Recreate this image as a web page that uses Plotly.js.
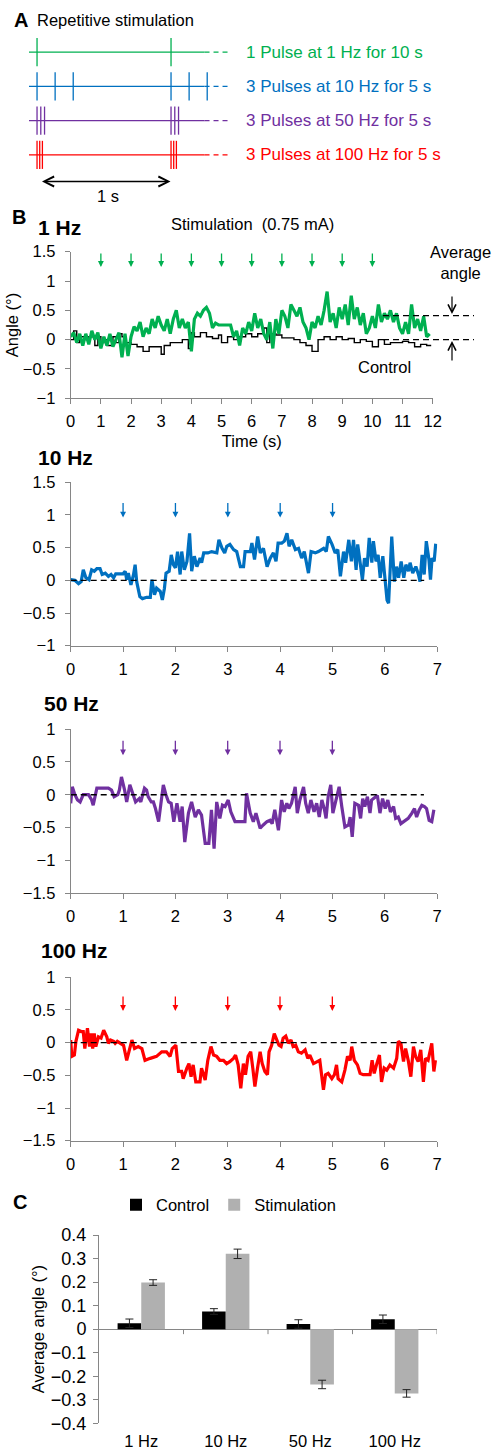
<!DOCTYPE html>
<html><head><meta charset="utf-8">
<script src="https://cdn.plot.ly/plotly-3.0.1.min.js"></script>
<style>html,body{margin:0;padding:0;background:#fff}#chart{width:492px;height:1453px}</style>
</head><body><div id="chart"></div>
<script>
const W = 492, H = 1453;
const FONT = '"Liberation Sans", Arial, sans-serif';

// ---------- Panel A: stimulation protocols ----------
const trainLabels = ['1 Pulse at 1 Hz for 10 s', '3 Pulses at 10 Hz for 5 s', '3 Pulses at 50 Hz for 5 s', '3 Pulses at 100 Hz for 5 s'];
const trainColors = ['#00B050', '#0070C0', '#7030A0', '#FF0000'];
const pulses1Hz = [0, 1];
const pulses10Hz = [0, 0.135, 0.27, 1, 1.135, 1.27];
const pulses50Hz = [0, 0.028, 0.056, 1, 1.028, 1.056];
const pulses100Hz = [0, 0.02, 0.04, 1, 1.02, 1.04];

// ---------- Panel B: angle traces ----------
const t1HzStim = [0,0.1,0.2,0.3,0.4,0.5,0.6,0.7,0.8,0.9,1,1.1,1.2,1.3,1.4,1.5,1.6,1.7,1.8,1.9,2,2.1,2.2,2.3,2.4,2.5,2.6,2.7,2.8,2.9,3,3.1,3.2,3.3,3.4,3.5,3.6,3.7,3.8,3.9,4,4.1,4.2,4.3,4.4,4.5,4.6,4.7,4.8,4.9,5,5.1,5.2,5.3,5.4,5.5,5.6,5.7,5.8,5.9,6,6.1,6.2,6.3,6.4,6.5,6.6,6.7,6.8,6.9,7,7.1,7.2,7.3,7.4,7.5,7.6,7.7,7.8,7.9,8,8.1,8.2,8.3,8.4,8.5,8.6,8.7,8.8,8.9,9,9.1,9.2,9.3,9.4,9.5,9.6,9.7,9.8,9.9,10,10.1,10.2,10.3,10.4,10.5,10.6,10.7,10.8,10.9,11,11.1,11.2,11.3,11.4,11.5,11.6,11.7,11.8,11.9];
const angle1HzStim = [0.05,0.12,-0.05,0.10,-0.10,0.10,-0.08,0.15,0.00,0.12,
  -0.15,0.05,-0.10,0.10,-0.12,0.00,0.12,-0.30,0.10,-0.28,
  0.05,0.22,0.15,0.30,0.05,0.20,0.10,0.35,0.20,0.40,
  0.25,0.15,0.35,0.10,0.35,0.50,0.20,0.35,0.20,0.30,
  -0.20,0.35,0.45,0.40,0.50,0.55,0.45,0.20,0.28,0.25,
  0.25,0.25,0.25,0.25,0.05,0.15,-0.10,0.20,0.10,0.30,
  0.15,0.45,0.20,0.35,0.10,0.00,0.30,-0.15,0.35,0.10,
  0.50,0.40,0.20,0.60,0.50,0.40,0.55,0.30,0.20,0.00,
  0.30,0.20,0.40,0.25,0.50,0.82,0.30,0.45,0.20,0.55,
  0.35,0.60,0.25,0.75,0.35,0.55,0.25,0.45,0.10,0.20,
  0.40,0.20,0.60,0.30,0.45,0.35,0.50,0.30,0.45,0.20,
  0.10,0.30,0.10,0.60,0.20,0.35,0.15,0.40,0.05,0.10];
const t1HzCtrl = [0,0.1,0.2,0.3,0.5,0.6,0.8,0.9,1.0,1.1,1.2,1.4,1.5,1.6,1.7,1.8,2.0,2.2,2.4,2.6,2.8,3.0,3.1,3.3,3.5,3.7,3.9,4.0,4.1,4.3,4.5,4.7,4.9,5.0,5.2,5.4,5.6,5.8,6.0,6.2,6.4,6.5,6.6,6.8,7.0,7.2,7.4,7.6,7.8,8.0,8.2,8.4,8.6,8.8,9.0,9.2,9.4,9.6,9.8,10.0,10.2,10.4,10.6,10.8,11.0,11.2,11.4,11.6,11.8,11.95];
const angle1HzCtrl = [0,0.15,-0.05,0.05,0,0.05,-0.1,0.05,-0.05,0,
  -0.1,0.05,-0.05,0.1,0.05,-0.05,-0.08,-0.12,-0.2,-0.12,
  -0.12,-0.25,-0.1,-0.05,-0.05,0,-0.15,0.12,0.05,0.12,
  0.05,0.02,0.08,-0.05,0.05,0,0.05,0.1,0.05,0.1,
  0.2,-0.05,0.1,0.08,0.03,0.03,0,-0.05,-0.1,-0.2,
  0,0.05,0,0.05,0,0.02,-0.05,0,-0.03,-0.12,
  0,-0.08,-0.05,-0.05,-0.03,-0.05,-0.12,-0.08,-0.1,-0.1];
const average1HzStim = 0.41;
const average1HzCtrl = 0;
const stimTimes1Hz = [1,2,3,4,5,6,7,8,9,10];

const t10Hz = [0,0.08,0.15,0.2,0.24,0.29,0.35,0.4,0.45,0.5,0.56,0.6,0.66,0.72,0.77,0.82,0.86,1.0,1.04,1.07,1.1,1.15,1.2,1.23,1.26,1.32,1.37,1.45,1.52,1.55,1.6,1.64,1.71,1.75,1.79,1.82,1.88,1.92,1.96,2.0,2.04,2.09,2.12,2.17,2.22,2.27,2.31,2.36,2.41,2.47,2.5,2.54,2.62,2.69,2.79,2.83,2.89,2.94,2.98,3.04,3.11,3.17,3.24,3.3,3.33,3.43,3.46,3.51,3.57,3.62,3.68,3.75,3.81,3.87,3.92,3.96,4.03,4.08,4.13,4.17,4.22,4.29,4.35,4.41,4.46,4.54,4.59,4.67,4.73,4.83,4.88,4.92,4.99,5.05,5.1,5.15,5.21,5.25,5.31,5.36,5.4,5.45,5.48,5.53,5.57,5.61,5.66,5.7,5.75,5.78,5.83,5.87,5.91,5.96,6.0,6.04,6.07,6.1,6.13,6.18,6.22,6.26,6.31,6.36,6.4,6.45,6.48,6.53,6.59,6.64,6.67,6.71,6.75,6.79,6.84,6.87,6.9,6.94,6.97];
const angle10Hz = [0.01,0,-0.05,-0.02,0.16,0.04,0.01,0.16,0.14,0.18,0.18,0.09,0.11,0.06,0.09,0.04,0.1,0.1,0.14,0.01,0.11,-0.07,0.09,0.24,-0.02,-0.25,-0.28,-0.26,-0.26,0.01,-0.22,-0.12,-0.17,-0.3,-0.12,0.11,0.14,0.39,0.24,0.19,0.44,0.09,0.44,0.16,0.29,0.72,0.14,0.37,0.21,0.34,0.27,0.42,0.42,0.44,0.42,0.62,0.49,0.42,0.52,0.55,0.47,0.44,0.21,0.21,0.44,0.44,0.57,0.32,0.67,0.42,0.49,0.21,0.34,0.42,0.29,0.57,0.57,0.6,0.72,0.52,0.62,0.47,0.49,0.34,0.44,0.11,0.44,0.42,0.44,0.49,0.44,0.67,0.55,0.42,0.47,0.06,0.44,0.27,0.62,0.29,0.62,0.16,0.55,0.27,0.01,0.34,0.21,0.65,0.27,0.6,0.29,0.39,0.04,0.37,0.04,-0.3,-0.35,0.19,0.67,-0.02,0.21,0.04,0.29,0.04,0.24,0.14,0.27,0.11,0.21,0.09,-0.02,0.39,0.09,0.6,0.32,0.01,0.34,0.29,0.56];
const stimTimes10Hz = [1,2,3,4,5];

const t50Hz = [0,0.03,0.08,0.13,0.18,0.24,0.34,0.4,0.43,0.5,0.72,0.78,0.83,0.9,0.93,0.97,1.03,1.07,1.13,1.2,1.24,1.31,1.34,1.41,1.45,1.48,1.54,1.58,1.62,1.68,1.72,1.77,1.82,1.87,1.92,1.97,2.03,2.09,2.13,2.18,2.25,2.31,2.38,2.44,2.5,2.57,2.64,2.69,2.74,2.79,2.85,2.9,2.95,3.01,3.06,3.14,3.33,3.36,3.43,3.49,3.54,3.62,3.68,3.75,3.81,3.85,3.9,3.97,4.03,4.08,4.13,4.17,4.22,4.29,4.33,4.38,4.45,4.49,4.54,4.59,4.65,4.7,4.75,4.8,4.85,4.88,4.92,4.97,5.01,5.06,5.13,5.18,5.24,5.31,5.34,5.38,5.43,5.5,5.54,5.58,5.62,5.67,5.72,5.75,5.82,5.86,5.91,5.96,6.01,6.06,6.11,6.17,6.21,6.26,6.31,6.39,6.45,6.52,6.57,6.61,6.66,6.71,6.76,6.8,6.85,6.9,6.94];
const angle50Hz = [-0.13,0.12,0,-0.08,-0.11,0,0,-0.08,-0.16,0.1,0.1,0.07,-0.03,0,0.07,0.27,0.07,-0.11,0.15,0,-0.11,-0.06,-0.11,0.1,0.07,-0.03,-0.11,-0.11,-0.21,-0.41,-0.16,0.15,0,-0.11,-0.13,-0.41,-0.13,-0.41,-0.18,-0.72,-0.28,-0.11,-0.34,-0.23,-0.31,-0.74,-0.74,-0.23,-0.82,-0.11,-0.36,-0.16,-0.18,-0.08,-0.26,-0.41,-0.41,0.02,-0.28,-0.41,-0.28,-0.51,-0.46,-0.41,-0.39,-0.44,-0.23,-0.54,-0.08,-0.26,-0.13,-0.21,-0.13,0.12,-0.28,-0.08,0.12,-0.13,-0.28,-0.08,-0.26,-0.13,-0.34,-0.08,-0.23,-0.36,-0.03,0.15,-0.28,-0.13,0.12,-0.18,-0.49,-0.46,-0.34,-0.64,-0.13,-0.16,-0.36,-0.06,-0.18,-0.03,-0.28,-0.08,-0.03,-0.01,-0.28,-0.06,-0.21,-0.08,-0.26,-0.18,-0.36,-0.34,-0.44,-0.39,-0.36,-0.28,-0.21,-0.34,-0.23,-0.16,-0.18,-0.21,-0.39,-0.41,-0.23];
const stimTimes50Hz = [1,2,3,4,5];

const t100Hz = [0,0.02,0.07,0.1,0.15,0.2,0.24,0.27,0.32,0.36,0.39,0.42,0.45,0.48,0.53,0.58,0.63,0.69,0.72,0.76,0.82,0.85,0.89,0.94,1.01,1.07,1.12,1.17,1.22,1.29,1.36,1.42,1.52,1.64,1.74,1.83,1.9,1.94,2.01,2.06,2.12,2.15,2.22,2.26,2.3,2.34,2.39,2.47,2.5,2.54,2.57,2.62,2.68,2.73,2.79,2.85,2.92,2.98,3.04,3.11,3.15,3.2,3.25,3.3,3.34,3.39,3.44,3.48,3.52,3.57,3.62,3.66,3.71,3.76,3.79,3.84,3.89,3.94,3.98,4.02,4.06,4.11,4.16,4.21,4.25,4.3,4.35,4.41,4.48,4.53,4.57,4.64,4.7,4.76,4.83,4.87,4.92,4.99,5.04,5.08,5.11,5.18,5.24,5.29,5.34,5.37,5.42,5.48,5.53,5.59,5.66,5.72,5.76,5.8,5.85,5.9,5.94,5.99,6.04,6.1,6.17,6.23,6.26,6.31,6.36,6.4,6.45,6.5,6.55,6.59,6.64,6.69,6.74,6.78,6.83,6.9,6.94,6.97];
const angle100Hz = [0.04,-0.21,-0.19,0.02,0.19,0.17,0.17,-0.09,0.22,-0.06,0.14,-0.09,0.14,-0.06,0.09,0.07,0.19,0.09,-0.01,0.04,0.02,-0.01,0.02,-0.01,-0.04,-0.27,-0.09,0.04,-0.09,-0.06,-0.09,-0.27,-0.24,-0.21,-0.14,-0.14,-0.21,-0.09,-0.04,-0.44,-0.44,-0.55,-0.39,-0.32,-0.52,-0.34,-0.6,-0.6,-0.39,-0.49,-0.57,-0.27,-0.06,-0.19,-0.21,-0.27,-0.27,-0.32,-0.29,-0.24,-0.19,-0.34,-0.7,-0.32,-0.49,-0.21,-0.14,-0.39,-0.67,-0.39,-0.14,-0.32,-0.44,-0.49,-0.14,-0.04,0.14,0.04,-0.04,-0.06,0.07,0.1,-0.01,0.04,-0.06,-0.04,-0.14,-0.16,-0.11,-0.24,-0.19,-0.32,-0.29,-0.27,-0.72,-0.49,-0.47,-0.55,-0.49,-0.34,-0.55,-0.6,-0.42,-0.21,-0.27,-0.06,-0.27,-0.34,-0.47,-0.49,-0.49,-0.49,-0.27,-0.47,-0.32,-0.19,-0.6,-0.39,-0.42,-0.34,-0.39,-0.24,0.02,-0.01,-0.29,-0.09,-0.27,-0.52,-0.06,-0.21,-0.29,-0.11,-0.6,-0.24,-0.27,-0.01,-0.44,-0.27];
const stimTimes100Hz = [1,2,3,4,5];

// ---------- Panel C: average angle ----------
const freqLabels = ['1 Hz', '10 Hz', '50 Hz', '100 Hz'];
const controlMean = [0.025, 0.075, 0.022, 0.042];
const controlErr = [0.018, 0.012, 0.018, 0.018];
const stimMean = [0.198, 0.32, -0.235, -0.273];
const stimErr = [0.012, 0.02, 0.018, 0.016];

// ---------- helpers ----------
const px = x => x / W;
const py = y => 1 - y / H;
const hdom = (a, b) => [px(a), px(b)];
const vdom = (top, bottom) => [py(bottom), py(top)];
const AX = '#868686';
const FS = 16.5;
const axisBase = {
  showgrid: false, zeroline: false, showline: true, linecolor: AX, linewidth: 1,
  ticks: 'outside', ticklen: 5, tickcolor: AX, tickwidth: 1,
  tickfont: {family: FONT, size: FS, color: '#000'}, fixedrange: true
};
const ax = o => Object.assign({}, axisBase, o);

const traces = [];
const shapes = [];
const annotations = [];
const label = (text, x, y, size, xanchor) => annotations.push({xref: 'paper', yref: 'paper', x: px(x), y: py(y),
  xanchor: xanchor || 'center', yanchor: 'middle', text: text, showarrow: false,
  font: {family: FONT, size: size, color: '#000'}, align: 'center'});

// Panel A
const pulseSets = [pulses1Hz, pulses10Hz, pulses50Hz, pulses100Hz];
pulseSets.forEach((p, i) => {
  const row = 3 - i;
  const xs = [], ys = [];
  p.forEach(t => { xs.push(t, t, null); ys.push(row - 0.41, row + 0.41, null); });
  traces.push({type: 'scatter', mode: 'lines', x: xs, y: ys, xaxis: 'x', yaxis: 'y',
    line: {color: trainColors[i], width: 1.3}, showlegend: false, hoverinfo: 'skip'});
  shapes.push({type: 'line', xref: 'x', yref: 'y', x0: -0.06, x1: 1.25, y0: row, y1: row,
    line: {color: trainColors[i], width: 1.3}});
  shapes.push({type: 'line', xref: 'x', yref: 'y', x0: 1.25, x1: 1.45, y0: row, y1: row,
    line: {color: trainColors[i], width: 1.3, dash: '5px,4px'}});
  annotations.push({xref: 'paper', yref: 'y', x: px(244), y: row, xanchor: 'left', yanchor: 'middle',
    text: trainLabels[i], showarrow: false, font: {family: FONT, size: 17, color: trainColors[i]}});
});
// 1 s scale arrow
annotations.push({xref: 'paper', yref: 'paper', x: px(170.5), y: py(181.5), ax: -130, ay: 0,
  showarrow: true, arrowside: 'end+start', arrowhead: 5, startarrowhead: 5, arrowsize: 1.4, startarrowsize: 1.4,
  arrowwidth: 1.4, arrowcolor: '#000', text: ''});
label('1 s', 108, 196, FS);

// Panel B traces
const panels = [
  {t: t1HzStim, v: angle1HzStim, c: trainColors[0], xa: 'x2', ya: 'y2', stim: stimTimes1Hz, arrowTip: 1.24, arrowLen: 15},
  {t: t10Hz, v: angle10Hz, c: trainColors[1], xa: 'x3', ya: 'y3', stim: stimTimes10Hz, arrowTip: 0.96, arrowLen: 16},
  {t: t50Hz, v: angle50Hz, c: trainColors[2], xa: 'x4', ya: 'y4', stim: stimTimes50Hz, arrowTip: 0.6, arrowLen: 16},
  {t: t100Hz, v: angle100Hz, c: trainColors[3], xa: 'x5', ya: 'y5', stim: stimTimes100Hz, arrowTip: 0.485, arrowLen: 16}
];
traces.push({type: 'scatter', mode: 'lines', x: t1HzCtrl, y: angle1HzCtrl, xaxis: 'x2', yaxis: 'y2',
  line: {color: '#000', width: 1.4, shape: 'hv'}, showlegend: false, hoverinfo: 'skip'});
panels.forEach((p, i) => {
  traces.push({type: 'scatter', mode: 'lines', x: p.t, y: p.v, xaxis: p.xa, yaxis: p.ya,
    line: {color: p.c, width: 3.2}, showlegend: false, hoverinfo: 'skip'});
  p.stim.forEach(t => annotations.push({xref: p.xa, yref: p.ya, x: t, y: p.arrowTip, ax: 0, ay: -p.arrowLen,
    showarrow: true, arrowhead: 2, arrowsize: 0.9, arrowwidth: 1.3, arrowcolor: p.c, text: ''}));
  if (i > 0) {
    shapes.push({type: 'line', xref: p.xa, yref: p.ya, x0: 0, x1: 6.75, y0: 0, y1: 0,
      line: {color: '#000', width: 1.4, dash: '6px,4px'}});
  }
});
// average angle indicators (1 Hz)
[average1HzStim, average1HzCtrl].forEach(v => shapes.push({type: 'line', xref: 'paper', yref: 'y2',
  x0: px(383), x1: px(474), y0: v, y1: v, line: {color: '#000', width: 1.4, dash: '6px,4px'}}));
annotations.push({xref: 'paper', yref: 'paper', x: px(452), y: py(314), ax: 0, ay: -19, showarrow: true,
  arrowhead: 5, arrowsize: 1.3, arrowwidth: 1.2, arrowcolor: '#000', text: ''});
annotations.push({xref: 'paper', yref: 'paper', x: px(452), y: py(341), ax: 0, ay: 21, showarrow: true,
  arrowhead: 5, arrowsize: 1.3, arrowwidth: 1.2, arrowcolor: '#000', text: ''});
label('Average<br>angle', 460, 262, FS);
label('Control', 384, 367, FS);
label('Stimulation\u00a0 (0.75 mA)', 252, 224, FS);

// Panel letters and sub-titles
const bold = (text, x, y, size) => label('<b>' + text + '</b>', x, y, size, 'left');
bold('A', 12, 20, 20);
label('Repetitive stimulation', 35, 20, FS, 'left');
bold('B', 10, 217, 20);
bold('1 Hz', 36, 227, 21);
bold('10 Hz', 36, 457, 21);
bold('50 Hz', 42, 703, 21);
bold('100 Hz', 39, 950, 21);
bold('C', 11, 1202, 20);

// Panel C bars
traces.push({type: 'bar', name: 'Control', x: freqLabels, y: controlMean, xaxis: 'x6', yaxis: 'y6',
  marker: {color: '#000'}, error_y: {type: 'data', array: controlErr, visible: true, color: '#222', thickness: 1, width: 4}});
traces.push({type: 'bar', name: 'Stimulation', x: freqLabels, y: stimMean, xaxis: 'x6', yaxis: 'y6',
  marker: {color: '#B0B0B0'}, error_y: {type: 'data', array: stimErr, visible: true, color: '#222', thickness: 1, width: 4}});
[0.5, 1.5, 2.5, 3.5].forEach(b => shapes.push({type: 'line', xref: 'x6', yref: 'y6', ysizemode: 'pixel', yanchor: 0,
  x0: b, x1: b, y0: 0, y1: -5, line: {color: AX, width: 1}}));

const layout = {
  width: W, height: H, margin: {l: 0, r: 0, t: 0, b: 0},
  paper_bgcolor: '#fff', plot_bgcolor: 'rgba(0,0,0,0)',
  font: {family: FONT, size: FS, color: '#000'},
  barmode: 'group', bargap: 0.44, bargroupgap: 0,
  showlegend: true,
  legend: {orientation: 'h', x: px(116), y: py(1205), xanchor: 'left', yanchor: 'middle',
    font: {family: FONT, size: FS, color: '#000'}, bgcolor: 'rgba(0,0,0,0)', itemclick: false},
  xaxis: {domain: hdom(29, 232), range: [-0.06, 1.455], visible: false, fixedrange: true, anchor: 'y'},
  yaxis: {domain: vdom(35, 172), range: [-0.5, 3.5], visible: false, fixedrange: true, anchor: 'x'},
  xaxis2: ax({domain: hdom(70.7, 432.7), anchor: 'y2', range: [0, 12], dtick: 1, tick0: 0, ticklabelstandoff: 3,
    title: {text: 'Time (s)', font: {family: FONT, size: FS}, standoff: 6}}),
  yaxis2: ax({domain: vdom(251.7, 398.3), anchor: 'x2', range: [-1, 1.5], dtick: 0.5, tick0: 0, ticklabelstandoff: 6,
    title: {text: 'Angle (°)', font: {family: FONT, size: FS}, standoff: 0}}),
  xaxis3: ax({domain: hdom(70.7, 437.3), anchor: 'y3', range: [0, 7], dtick: 1, tick0: 0, ticklabelstandoff: 3}),
  yaxis3: ax({domain: vdom(482.3, 645.7), anchor: 'x3', range: [-1, 1.5], dtick: 0.5, tick0: 0, ticklabelstandoff: 6}),
  xaxis4: ax({domain: hdom(70.7, 437), anchor: 'y4', range: [0, 7], dtick: 1, tick0: 0, ticklabelstandoff: 3}),
  yaxis4: ax({domain: vdom(729, 893.3), anchor: 'x4', range: [-1.5, 1], dtick: 0.5, tick0: 0, ticklabelstandoff: 6}),
  xaxis5: ax({domain: hdom(70.7, 437), anchor: 'y5', range: [0, 7], dtick: 1, tick0: 0, ticklabelstandoff: 3}),
  yaxis5: ax({domain: vdom(977.3, 1140.7), anchor: 'x5', range: [-1.5, 1], dtick: 0.5, tick0: 0, ticklabelstandoff: 6}),
  xaxis6: ax({domain: hdom(99, 437), anchor: 'y6', type: 'category', categoryarray: freqLabels, categoryorder: 'array',
    range: [-0.5, 3.5], showline: false, ticks: '', ticklabelstandoff: 6}),
  yaxis6: ax({domain: vdom(1235, 1423.3), anchor: 'x6', range: [-0.4, 0.4], dtick: 0.1, tick0: 0, ticklabelstandoff: 3,
    tickfont: {family: FONT, size: 18, color: '#000'},
    zeroline: true, zerolinecolor: AX, zerolinewidth: 1,
    title: {text: 'Average angle (°)', font: {family: FONT, size: FS}, standoff: 2}}),
  shapes: shapes,
  annotations: annotations
};

Plotly.newPlot('chart', traces, layout, {staticPlot: true, displayModeBar: false});
</script>
</body></html>
